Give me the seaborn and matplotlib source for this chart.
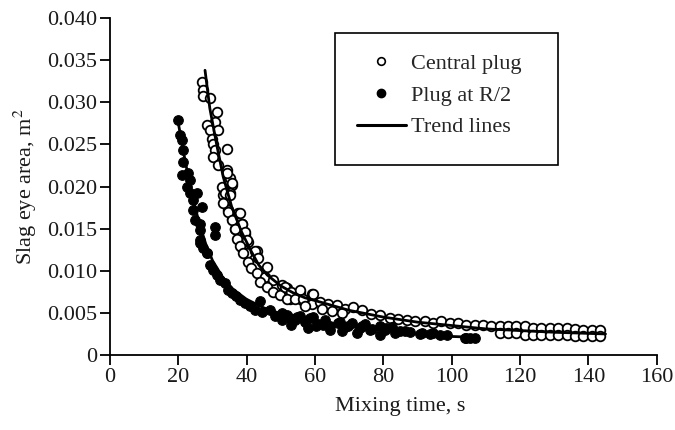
import numpy as np
import pandas as pd
import matplotlib
matplotlib.use("Agg")
import matplotlib.pyplot as plt
import seaborn as sns
from matplotlib.lines import Line2D
from matplotlib.legend_handler import HandlerLine2D
from matplotlib.patches import Rectangle

# ---------------- data ----------------
central_x = [26.8, 27.3, 27.3, 29.2, 31.2, 30.7, 28.3, 29.2, 31.7, 29.7, 30.2, 34.1, 30.7, 30.2,
             31.7, 34.1, 35.1, 32.7, 35.6, 33.1, 35.1, 33.6, 34.6, 37.5, 35.6, 38.5, 36.6, 39.5,
             38.0, 40.4, 38.5, 40.0, 42.9,
             34.1, 35.6, 33.6, 35.1, 33.1, 34.6, 38.0, 35.6, 38.5, 36.6, 39.5, 37.1, 40.0, 38.0,
             42.4, 39.0, 43.4, 40.5, 45.8, 41.4, 42.9, 45.3, 47.8, 43.9, 50.2, 45.8, 51.7, 47.8,
             55.6, 49.7, 59.0, 52.6, 56.1, 59.5,
             51.2, 53.1, 55.6, 51.7, 54.1, 56.5, 59.5, 59.0, 61.4, 63.9, 66.3, 68.7, 71.2, 73.6,
             76.5, 79.0, 81.9, 84.3,
             86.8, 89.2, 92.1, 94.6, 97.0, 99.4, 101.9, 104.3, 106.8, 109.2, 111.6, 114.1, 116.5,
             118.9, 121.4, 123.8, 126.2, 128.7, 131.1, 133.6, 136.0, 138.4, 140.9, 143.3,
             114.1, 116.5, 118.9, 121.4, 123.8, 126.2, 128.7, 131.1, 133.6, 136.0, 138.4, 140.9, 143.3,
             57.0, 62.0, 65.0, 68.0]
central_y = [0.0324, 0.0315, 0.0307, 0.0305, 0.0289, 0.0277, 0.0273, 0.0267, 0.0267, 0.0257,
             0.0251, 0.0244, 0.0243, 0.0235, 0.0226, 0.0220, 0.0210, 0.0200, 0.0202, 0.0190,
             0.0192, 0.0182, 0.0172, 0.0168, 0.0162, 0.0156, 0.0150, 0.0144, 0.0137, 0.0134,
             0.0127, 0.0121, 0.0123,
             0.0216, 0.0204, 0.0192, 0.0190, 0.0180, 0.0170, 0.0168, 0.0160, 0.0156, 0.0150,
             0.0146, 0.0138, 0.0136, 0.0129, 0.0123, 0.0121, 0.0115, 0.0111, 0.0105, 0.0103,
             0.0097, 0.0093, 0.0089, 0.0087, 0.0083, 0.0081, 0.0079, 0.0075, 0.0075, 0.0071,
             0.0073, 0.0067, 0.0065, 0.0063,
             0.0081, 0.0075, 0.0077, 0.0067, 0.0067, 0.0067, 0.0073, 0.0061, 0.0063, 0.0061,
             0.0059, 0.0055, 0.0057, 0.0053, 0.0049, 0.0047, 0.0044, 0.0043,
             0.0042, 0.0040, 0.0040, 0.0038, 0.0040, 0.0038, 0.0038, 0.0036, 0.0036, 0.0036,
             0.0034, 0.0034, 0.0034, 0.0034, 0.0034, 0.0032, 0.0032, 0.0032, 0.0032, 0.0032,
             0.0031, 0.0030, 0.0030, 0.0030,
             0.0026, 0.0026, 0.0026, 0.0024, 0.0024, 0.0024, 0.0024, 0.0024, 0.0024, 0.0022,
             0.0022, 0.0022, 0.0022,
             0.0058, 0.0055, 0.0052, 0.0050]

r2_x = [20.0, 20.5, 21.0, 21.4, 21.4, 21.0, 22.9, 23.4, 22.4, 23.4, 25.4, 24.4, 26.8, 24.4,
        24.9, 26.3, 26.3, 26.3, 27.3, 28.3, 30.7, 30.7,
        26.3, 28.4, 29.2, 30.1, 31.3, 32.2, 33.6, 34.5, 35.7, 36.9, 38.0, 39.5, 41.0, 43.9,
        42.4, 44.5, 46.8, 48.3, 50.3, 52.6, 54.0, 55.6, 57.0, 58.5, 61.0, 62.9, 64.3, 67.3,
        68.7, 70.8, 73.1, 74.6, 76.6, 79.0, 80.4, 82.5, 84.8, 87.7, 90.7, 93.6, 96.5,
        103.8, 105.3, 106.8,
        50.2, 51.7, 53.1, 54.6, 57.0, 58.0, 59.5, 60.4, 62.4, 64.3, 66.8, 67.8, 69.7, 72.2,
        73.6, 76.0, 79.0, 80.9, 83.4, 86.3, 91.2, 94.6, 98.5, 104.3]
r2_y = [0.0279, 0.0261, 0.0255, 0.0243, 0.0229, 0.0214, 0.0216, 0.0208, 0.0200, 0.0192,
        0.0192, 0.0184, 0.0176, 0.0172, 0.0160, 0.0156, 0.0148, 0.0136, 0.0127, 0.0121,
        0.0152, 0.0142,
        0.0133, 0.0121, 0.0107, 0.0101, 0.0095, 0.0089, 0.0085, 0.0077, 0.0074, 0.0070,
        0.0065, 0.0062, 0.0058, 0.0064, 0.0053, 0.0051, 0.0053, 0.0046, 0.0050, 0.0044,
        0.0042, 0.0046, 0.0039, 0.0044, 0.0037, 0.0042, 0.0034, 0.0039, 0.0033, 0.0038,
        0.0032, 0.0037, 0.0031, 0.0034, 0.0030, 0.0033, 0.0028, 0.0027, 0.0025, 0.0025,
        0.0024, 0.0020, 0.0020, 0.0020,
        0.0042, 0.0047, 0.0036, 0.0045, 0.0040, 0.0032, 0.0045, 0.0034, 0.0036, 0.0030,
        0.0038, 0.0028, 0.0034, 0.0026, 0.0034, 0.0030, 0.0024, 0.0032, 0.0026, 0.0028,
        0.0026, 0.0026, 0.0024, 0.0020]

trend_c_x = [27.8, 29.2, 31.2, 33.1, 35.6, 38.5, 41.2, 43.5, 46.0, 50.0, 53.5, 57.0, 61.4,
             70.0, 80.0, 90.0, 100.0, 110.0, 120.0, 130.0, 145.0]
trend_c_y = [0.0338, 0.0293, 0.0250, 0.0212, 0.0176, 0.0146, 0.0124, 0.0107, 0.0095, 0.0082,
             0.0074, 0.0068, 0.0063, 0.0053, 0.0045, 0.0039, 0.0035, 0.0031, 0.0029, 0.0027,
             0.0025]
trend_r_x = [20.0, 22.0, 24.0, 26.0, 28.0, 30.0, 33.0, 36.0, 40.0, 45.0, 50.0, 60.0, 70.0,
             80.0, 90.0, 100.0, 107.0]
trend_r_y = [0.0275, 0.0230, 0.0190, 0.0158, 0.0132, 0.0112, 0.0092, 0.0078, 0.0066, 0.0056,
             0.0049, 0.0040, 0.0034, 0.0029, 0.0025, 0.0022, 0.0021]

x_ticks = [0, 20, 40, 60, 80, 100, 120, 140, 160]
y_ticks = [0, 0.005, 0.010, 0.015, 0.020, 0.025, 0.030, 0.035, 0.040]
y_tick_labels = ["0", "0.005", "0.010", "0.015", "0.020", "0.025", "0.030", "0.035", "0.040"]
legend_labels = ["Central plug", "Plug at R/2", "Trend lines"]

# ---------------- drawing ----------------
sns.set_theme(style="ticks")
plt.rcParams["font.family"] = ["Liberation Serif", "DejaVu Serif"]
plt.rcParams["mathtext.fontset"] = "stix"
FS = 16

fig = plt.figure(figsize=(6.75, 4.3), dpi=100)
ax = fig.add_axes([0.163, 0.1744, 0.81, 0.7836])

df_c = pd.DataFrame({"x": central_x, "y": central_y})
df_r = pd.DataFrame({"x": r2_x, "y": r2_y})
df_tc = pd.DataFrame({"x": trend_c_x, "y": trend_c_y})
df_tr = pd.DataFrame({"x": trend_r_x, "y": trend_r_y})

sns.scatterplot(data=df_r, x="x", y="y", ax=ax, s=48, color="black",
                edgecolor="black", linewidth=0.8, zorder=3)
sns.scatterplot(data=df_c, x="x", y="y", ax=ax, s=48, facecolor="white",
                edgecolor="black", linewidth=1.3, zorder=2)
sns.lineplot(data=df_tc, x="x", y="y", ax=ax, color="black", lw=2.0, zorder=4)
sns.lineplot(data=df_tr, x="x", y="y", ax=ax, color="black", lw=2.0, zorder=4)

ax.set_xlim(0, 160)
ax.set_ylim(0, 0.040)
ax.set_xticks(x_ticks)
ax.set_xticklabels([str(v) for v in x_ticks])
ax.set_yticks(y_ticks)
ax.set_yticklabels(y_tick_labels)
ax.tick_params(axis="both", labelsize=FS, color="black", labelcolor="#1a1a1a",
               width=1.3, length=7, direction="out", pad=2)
ax.set_xlabel("Mixing time, s", fontsize=FS, color="#1a1a1a")
ax.xaxis.set_label_coords(0.53, -0.125)
ax.set_ylabel("Slag eye area, m$^2$", fontsize=FS, color="#1a1a1a", labelpad=6)
sns.despine(ax=ax)
for sp in ["left", "bottom"]:
    ax.spines[sp].set_linewidth(1.3)
    ax.spines[sp].set_color("black")

# legend box
rect = Rectangle((0.411, 0.564), 0.408, 0.391, transform=ax.transAxes, fill=False,
                 edgecolor="black", linewidth=1.2, zorder=5)
ax.add_patch(rect)


class RightMarkerHandler(HandlerLine2D):
    def get_xdata(self, legend, xdescent, ydescent, width, height, fontsize):
        xdata = [-xdescent, -xdescent + width]
        return xdata, [-xdescent + 0.75 * width]


h_c = Line2D([], [], marker="o", ls="none", mfc="white", mec="black", mew=1.2, ms=5.5)
h_r = Line2D([], [], marker="o", ls="none", mfc="black", mec="black", ms=6)
h_t = Line2D([], [], color="black", lw=2.2)
ax.legend([h_c, h_r, h_t], legend_labels, loc="upper left",
          bbox_to_anchor=(0.4516, 0.895), frameon=False, fontsize=FS,
          handlelength=2.2, handletextpad=0.25, labelspacing=0.5, borderpad=0,
          borderaxespad=0,
          handler_map={h_c: RightMarkerHandler(), h_r: RightMarkerHandler()})

fig.savefig("out.png", dpi=100)
